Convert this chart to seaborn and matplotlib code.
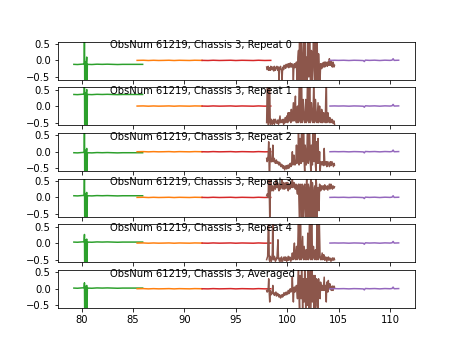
import matplotlib
matplotlib.use("Agg")
import matplotlib.pyplot as plt
import seaborn as sns
import numpy as np

titles = ["ObsNum 61219, Chassis 3, Repeat 0", "ObsNum 61219, Chassis 3, Repeat 1",
          "ObsNum 61219, Chassis 3, Repeat 2", "ObsNum 61219, Chassis 3, Repeat 3",
          "ObsNum 61219, Chassis 3, Repeat 4", "ObsNum 61219, Chassis 3, Averaged"]

# green segment
green_x = [79.25, 79.6, 80.0, 80.25, 80.28, 80.31, 80.34, 80.37, 80.45, 80.5, 80.53, 80.56,
           80.6, 81.0, 81.5, 82.0, 82.5, 83.0, 83.5, 84.0, 84.5, 85.0, 85.94]
green_y = [
    [-0.12, -0.125, -0.115, -0.11, 1.0, -1.0, -0.05, -0.12, -0.13, 0.1, -1.0, -0.12, -0.12, -0.125, -0.115, -0.12, -0.115, -0.12, -0.125, -0.12, -0.12, -0.12, -0.12],
    [0.35, 0.345, 0.355, 0.36, 1.0, -1.0, 0.4, 0.35, 0.34, 0.5, -1.0, 0.35, 0.35, 0.345, 0.355, 0.35, 0.355, 0.35, 0.345, 0.35, 0.35, 0.35, 0.35],
    [-0.03, -0.035, -0.025, -0.02, 1.0, -1.0, 0.05, -0.03, -0.04, 0.1, -1.0, -0.03, -0.03, -0.035, -0.025, -0.03, -0.025, -0.03, -0.035, -0.03, -0.03, -0.03, -0.03],
    [0.05, 0.045, 0.055, 0.06, 1.0, -1.0, 0.12, 0.05, 0.04, 0.15, -1.0, 0.05, 0.05, 0.045, 0.055, 0.05, 0.055, 0.05, 0.045, 0.05, 0.05, 0.05, 0.05],
    [0.03, 0.025, 0.035, 0.04, 0.26, -1.0, 0.1, 0.03, 0.02, 0.12, -1.0, 0.03, 0.03, 0.025, 0.035, 0.03, 0.035, 0.03, 0.025, 0.03, 0.03, 0.03, 0.03],
    [0.02, 0.015, 0.025, 0.03, 0.18, -1.0, 0.08, 0.02, 0.01, 0.1, -1.0, 0.02, 0.02, 0.015, 0.025, 0.02, 0.025, 0.02, 0.015, 0.02, 0.02, 0.02, 0.02],
]

orange_x = [85.4, 86.0, 86.5, 87.0, 87.5, 88.0, 88.5, 89.0, 89.5, 90.0, 90.5, 91.0, 91.72]
orange_y = [0.0, 0.004, -0.004, 0.003, -0.003, 0.0, 0.004, -0.004, 0.003, 0.0, -0.003, 0.004, 0.0]

red_x = [91.72, 92.3, 92.8, 93.4, 93.9, 94.5, 95.0, 95.6, 96.1, 96.7, 97.2, 97.8, 98.4]
red_y = [0.0, -0.004, 0.004, -0.003, 0.0, 0.004, -0.004, 0.003, 0.0, -0.004, 0.004, -0.003, 0.0]

brown_x_main = [round(98.0 + 0.1 * i, 2) for i in range(67)]
brown_x_mid = [round(98.05 + 0.1 * i, 2) for i in range(66)]
brown_main = [
    [-0.2, -0.25, -0.3, -0.22, -0.18, -0.28, -0.2, -0.32, -0.22, -0.25,
     -0.18, -0.3, -0.6, -0.22, -0.26, -0.6, -0.2, -0.15, -0.22, -0.12,
     -0.2, -0.1, -0.18, -0.08, -0.2, -0.14, -0.6, -0.1, -0.2, -0.05,
     -0.25, 0.3, 1.0, -0.6, 0.2, -0.4, 1.0, -0.2, -1.0, 0.1,
     1.0, -0.5, 1.0, -1.0, 0.2, -0.3, 1.0, -1.0, -0.1, 0.8,
     -1.0, -0.2, -0.6, -0.15, -0.1, -0.2, -0.05, -0.15, -0.08, -0.18,
     -0.1, 0.05, -0.15, -0.08, -0.2, -0.1, -0.15],
    [-0.5, 1.0, -0.6, 0.6, -0.55, -0.45, -0.5, -0.4, -0.5, -0.45,
     -0.52, -0.42, -0.5, -0.3, -0.48, -0.5, -0.4, -0.5, -0.35, -0.48,
     -0.4, -0.2, -0.45, -0.35, -0.1, -0.45, 0.1, -0.4, 0.3, -0.5,
     0.0, -0.45, 1.0, -0.5, 1.0, -0.4, -0.1, -0.5, 0.2, -0.45,
     1.0, -0.5, 1.0, -0.4, -0.2, -0.5, 1.0, -0.45, -0.1, -0.5,
     0.1, -0.45, -0.3, -0.5, -0.2, -0.45, -0.35, -0.5, 1.0, -0.45,
     -0.3, -0.5, -0.4, -0.48, -0.42, -0.5, -0.55],
    [-0.2, -0.25, 0.3, -0.6, -0.2, -0.3, 0.2, -0.25, -0.3, -0.28,
     -0.35, -0.3, -0.4, -0.35, -0.45, -0.4, -0.5, -0.45, -0.5, -0.42,
     -0.48, -0.4, -0.45, -0.35, -0.42, 0.0, -0.35, -0.3, -0.38, 0.2,
     -0.3, 1.0, -0.35, 0.1, 1.0, -0.3, 1.0, -0.6, 0.0, -0.3,
     1.0, -0.25, 0.3, -0.6, -0.2, 1.0, -0.3, 1.0, -0.6, -0.1,
     0.4, -0.35, -0.6, -0.3, -0.4, -0.35, 0.1, -0.4, -0.3, -0.42,
     -0.35, -0.45, -0.3, -0.4, -0.35, -0.45, -0.4],
    [0.05, 0.1, 1.0, -0.6, 0.6, 0.2, 0.3, 0.25, 0.35, 0.6,
     0.3, 0.4, 0.2, 0.35, 0.3, 0.6, 0.25, 0.4, 0.3, 0.45,
     0.35, 0.2, 0.4, 0.3, 0.45, 0.6, 0.35, 0.4, 0.25, 0.35,
     0.1, 0.4, -0.6, 0.3, -0.6, 0.35, -0.3, 0.4, -0.6, 0.6,
     -0.6, 0.3, -0.6, 0.6, -0.6, 0.2, -0.6, 0.35, 0.6, -0.6,
     0.3, -0.4, 0.35, 0.25, 0.3, 0.35, 0.22, 0.3, 0.25, 0.35,
     0.28, 0.4, 0.3, 0.35, 0.25, 0.3, 0.32],
    [-0.5, -0.4, 1.0, -0.55, -0.45, -0.5, 0.8, -0.5, -0.45, -0.52,
     -0.48, 0.1, -0.5, -0.45, -0.55, -0.48, -0.5, -0.42, -0.52, -0.46,
     -0.5, -0.4, -0.48, -0.45, -0.5, -0.3, -0.48, 0.0, -0.5, -0.1,
     -0.45, 1.0, -0.5, 1.0, -0.45, 0.2, -0.5, -0.3, -0.45, -0.5,
     0.3, -0.48, 1.0, -0.5, 1.0, -0.45, -0.3, -0.5, -0.4, 1.0,
     -0.5, 1.0, -0.45, -0.5, -0.3, -0.48, -0.4, -0.5, -0.45, -0.5,
     -0.42, -0.5, -0.48, -0.52, -0.45, -0.5, -0.5],
    [-0.05, -0.08, 0.3, -0.4, -0.1, -0.15, 0.1, -0.12, -0.18, -0.1,
     -0.2, -0.15, -0.25, -0.2, -0.25, -0.18, -0.22, -0.12, -0.18, -0.1,
     -0.15, -0.05, -0.12, 0.0, -0.08, 0.35, -0.4, 0.05, -0.05, 0.1,
     -0.3, 0.6, -0.6, 0.2, 0.6, -0.6, 0.1, 0.6, -0.6, 0.0,
     0.6, -0.6, 0.3, -0.6, 0.6, -0.2, -0.6, 0.4, -0.5, 0.2,
     -0.6, 0.1, -0.3, 0.05, 0.1, -0.05, 0.35, 0.0, -0.4, 0.1,
     0.25, 0.0, 0.1, -0.05, 0.08, 0.0, 0.05],
]
brown_mid = [
    [-0.28, -0.18, -0.24, -0.3, -0.2, -0.24, -0.3, -0.18, -0.3, -0.2,
     -0.26, -0.2, -0.3, -0.18, -0.3, -0.25, -0.28, -0.18, -0.24, -0.18,
     -0.14, -0.22, -0.12, -0.2, -0.1, -0.22, -0.15, -0.22, -0.12, -0.6,
     0.1, -0.6, 0.4, 1.0, -0.6, 0.3, -0.6, 1.0, -0.3, -0.6,
     -0.1, 1.0, -0.6, 0.3, -0.6, 1.0, -0.2, 1.0, -0.6, -0.2,
     0.2, -0.6, -0.1, -0.25, -0.08, -0.15, -0.2, -0.05, -0.15, -0.05,
     -0.15, -0.1, -0.02, -0.18, -0.05, -0.2],
    [0.5, -0.6, 1.0, -0.5, -0.4, -0.55, -0.42, -0.55, -0.4, -0.5,
     -0.45, -0.55, -0.4, -0.5, -0.42, -0.45, -0.55, -0.42, -0.5, -0.3,
     -0.5, -0.4, -0.2, -0.5, -0.4, -0.2, -0.45, 0.0, -0.45, -0.3,
     -0.5, 0.4, -0.45, 0.6, -0.5, 0.2, -0.45, -0.2, -0.5, 0.4,
     -0.45, 0.5, -0.5, 0.1, -0.45, 0.3, -0.5, 0.2, -0.45, -0.2,
     -0.5, 0.0, -0.45, -0.1, -0.5, -0.2, -0.45, 0.3, -0.5, -0.2,
     -0.45, -0.35, -0.5, -0.4, -0.52, -0.45],
    [-0.3, -0.1, -0.6, 0.1, -0.3, -0.2, -0.3, -0.2, -0.35, -0.25,
     -0.3, -0.38, -0.32, -0.42, -0.38, -0.48, -0.42, -0.55, -0.45, -0.52,
     -0.42, -0.5, -0.38, -0.45, -0.3, -0.4, -0.1, -0.4, -0.2, -0.35,
     -0.2, -0.4, 0.4, -0.35, -0.2, 0.5, -0.3, 0.2, -0.4, 0.5,
     -0.35, 1.0, -0.3, 0.2, -0.4, 0.3, -0.2, -0.4, 0.3, -0.35,
     -0.2, 0.0, -0.4, -0.35, -0.3, -0.42, -0.3, -0.35, -0.45, -0.3,
     -0.4, -0.35, -0.42, -0.3, -0.4, -0.35],
    [0.1, 0.0, 0.3, 0.0, 0.3, 0.35, 0.2, 0.4, 0.25, 0.35,
     0.45, 0.25, 0.4, 0.25, 0.4, 0.3, 0.45, 0.25, 0.35, 0.28,
     0.45, 0.35, 0.25, 0.4, 0.3, 0.3, 0.45, 0.3, 0.4, 0.2,
     0.35, -0.2, 0.4, -0.3, 0.4, -0.6, 0.35, -0.6, 0.3, -0.6,
     0.4, -0.6, 0.3, -0.6, 0.45, -0.6, 0.3, -0.6, 0.4, -0.3,
     0.25, 0.4, 0.2, 0.35, 0.25, 0.3, 0.38, 0.25, 0.3, 0.22,
     0.35, 0.25, 0.4, 0.28, 0.35, 0.28],
    [-0.45, 0.5, -0.5, -0.4, -0.55, -0.3, -0.5, -0.4, -0.55, -0.45,
     -0.2, -0.45, -0.55, -0.48, -0.42, -0.55, -0.45, -0.52, -0.42, -0.55,
     -0.45, -0.52, -0.42, -0.55, -0.45, -0.5, -0.2, -0.45, -0.3, -0.5,
     0.2, -0.45, 0.4, -0.5, -0.1, -0.45, -0.1, -0.5, -0.2, -0.45,
     -0.5, 0.5, -0.45, 0.6, -0.5, -0.1, -0.45, -0.2, -0.5, 0.4,
     -0.45, 0.2, -0.5, -0.4, -0.5, -0.35, -0.52, -0.42, -0.55, -0.45,
     -0.52, -0.45, -0.55, -0.48, -0.52, -0.45],
    [-0.1, 0.0, -0.1, -0.05, -0.18, -0.08, -0.15, -0.2, -0.12, -0.22,
     -0.14, -0.22, -0.18, -0.28, -0.2, -0.25, -0.15, -0.2, -0.14, -0.18,
     -0.1, -0.15, -0.05, -0.1, 0.0, -0.1, 0.0, -0.1, 0.05, -0.1,
     0.3, -0.2, 0.4, -0.3, 0.1, 0.3, -0.4, 0.2, 0.3, -0.5,
     0.1, -0.3, 0.6, 0.0, -0.4, 0.4, 0.2, -0.6, 0.3, -0.3,
     0.3, -0.2, 0.2, -0.05, 0.05, 0.15, -0.05, 0.1, 0.2, -0.1,
     0.05, 0.15, -0.02, 0.05, -0.05, 0.08],
]

purple_x = [104.16, 104.6, 105.0, 105.5, 106.0, 106.5, 107.0, 107.4, 107.5, 107.6, 108.0,
            108.5, 109.0, 109.5, 110.0, 110.2, 110.3, 110.4, 110.84]
purple_y = [0.0, 0.004, 0.0, 0.004, -0.004, 0.004, 0.0, -0.005, -0.035, 0.008, 0.0, 0.006, -0.004,
            0.006, 0.0, 0.008, 0.05, 0.0, 0.005]

C_GREEN, C_ORANGE, C_RED, C_BROWN, C_PURPLE = "#2ca02c", "#ff7f0e", "#d62728", "#8c564b", "#9467bd"

# interleave main and mid samples of the brown segment
brown_x = []
for k in range(len(brown_x_main)):
    brown_x.append(brown_x_main[k])
    if k < len(brown_x_mid):
        brown_x.append(brown_x_mid[k])

fig, axes = plt.subplots(6, 1, sharex=True, figsize=(461 / 72, 346 / 72), dpi=72)

for i, ax in enumerate(axes):
    by = []
    for k in range(len(brown_x_main)):
        by.append(brown_main[i][k])
        if k < len(brown_x_mid):
            by.append(brown_mid[i][k])
    sns.lineplot(x=green_x, y=green_y[i], ax=ax, color=C_GREEN, estimator=None, sort=False, linewidth=1.5)
    sns.lineplot(x=orange_x, y=orange_y, ax=ax, color=C_ORANGE, estimator=None, sort=False, linewidth=1.5)
    sns.lineplot(x=red_x, y=red_y, ax=ax, color=C_RED, estimator=None, sort=False, linewidth=1.5)
    sns.lineplot(x=brown_x, y=by, ax=ax, color=C_BROWN, estimator=None, sort=False, linewidth=1.5)
    sns.lineplot(x=purple_x, y=purple_y, ax=ax, color=C_PURPLE, estimator=None, sort=False, linewidth=1.5)
    ax.set_ylim(-0.58, 0.57)
    ax.set_yticks([-0.5, 0.0, 0.5])
    ax.text(0.147, 0.824, titles[i], transform=ax.transAxes, ha="left", va="baseline", fontsize=10)

axes[-1].set_xlim(77.67, 112.42)
axes[-1].set_xticks([80, 85, 90, 95, 100, 105, 110])

fig.savefig("out.png", dpi=72)
